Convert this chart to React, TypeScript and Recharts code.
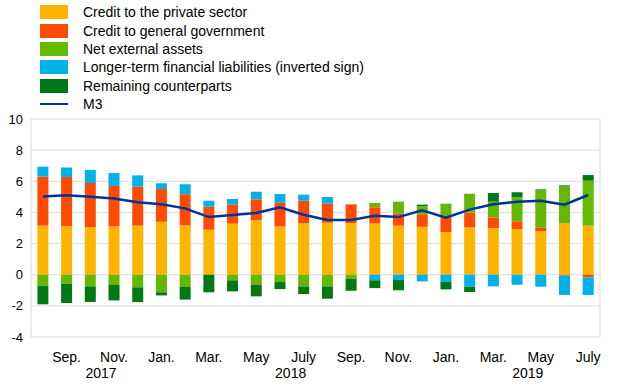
import {
  ComposedChart,
  Bar,
  Line,
  XAxis,
  YAxis,
  CartesianGrid,
} from "recharts";

const months = [
  "2017-08", "2017-09", "2017-10", "2017-11", "2017-12",
  "2018-01", "2018-02", "2018-03", "2018-04", "2018-05", "2018-06",
  "2018-07", "2018-08", "2018-09", "2018-10", "2018-11", "2018-12",
  "2019-01", "2019-02", "2019-03", "2019-04", "2019-05", "2019-06", "2019-07",
];

const monthLabels: Record<string, string> = {
  "01": "Jan.", "03": "Mar.", "05": "May", "07": "July", "09": "Sep.", "11": "Nov.",
};

// year label sits just left of these months
const yearAt: Record<string, string> = {
  "2017-11": "2017",
  "2018-07": "2018",
  "2019-05": "2019",
};

const privateSector = [3.15, 3.13, 3.06, 3.1, 3.15, 3.4, 3.17, 2.89, 3.28, 3.51, 3.1, 3.3, 3.34, 3.32, 3.3, 3.15, 3.08, 2.74, 3.04, 3.0, 2.93, 2.8, 3.3, 3.15];
const government = [3.15, 3.14, 2.83, 2.6, 2.5, 2.1, 2.0, 1.48, 1.24, 1.33, 1.52, 1.45, 1.24, 1.2, 1.03, 0.79, 0.8, 0.9, 0.94, 0.68, 0.51, 0.24, -0.06, -0.17];
const netExternal = [-0.73, -0.58, -0.75, -0.66, -0.81, -1.13, -0.79, 0, -0.36, -0.64, -0.47, -0.75, -0.75, -0.26, 0.28, 0.75, 0.51, 0.92, 1.22, 1.01, 1.54, 2.38, 2.37, 2.89];
const longerTerm = [0.64, 0.62, 0.84, 0.83, 0.73, 0.37, 0.64, 0.38, 0.34, 0.49, 0.56, 0.39, 0.41, 0, -0.36, -0.34, -0.43, -0.47, -0.77, -0.75, -0.64, -0.77, -1.24, -1.13];
const remaining = [-1.17, -1.24, -1.0, -0.99, -0.95, -0.2, -0.81, -1.13, -0.71, -0.75, -0.45, -0.49, -0.79, -0.77, -0.5, -0.66, 0.11, -0.47, -0.34, 0.56, 0.32, 0.06, 0.07, 0.36];
const m3 = [5.03, 5.1, 5.0, 4.9, 4.65, 4.52, 4.26, 3.7, 3.83, 3.96, 4.33, 3.85, 3.51, 3.51, 3.79, 3.7, 4.13, 3.66, 4.18, 4.52, 4.69, 4.75, 4.5, 5.12];

const yTicks = [-4, -2, 0, 2, 4, 6, 8, 10];

const data = months.map((m, i) => ({
  month: m,
  priv: privateSector[i],
  gov: government[i],
  nea: netExternal[i],
  ltfl: longerTerm[i],
  rem: remaining[i],
  m3: m3[i],
}));

const series = [
  { key: "priv", name: "Credit to the private sector", color: "#ffb400" },
  { key: "gov", name: "Credit to general government", color: "#ff4b00" },
  { key: "nea", name: "Net external assets", color: "#65b800" },
  { key: "ltfl", name: "Longer-term financial liabilities (inverted sign)", color: "#00b1ea" },
  { key: "rem", name: "Remaining counterparts", color: "#007816" },
];

const font = "'Liberation Sans', Arial, sans-serif";

function MonthTick(props: any) {
  const { x, y, payload } = props;
  const m: string = payload.value;
  const label = monthLabels[m.slice(5)];
  const year = yearAt[m];
  return (
    <g>
      {label && (
        <text x={x} y={y + 17} textAnchor="middle" fontSize={14} fill="#000" fontFamily={font}>
          {label}
        </text>
      )}
      {year && (
        <text x={x - 13} y={y + 33} textAnchor="middle" fontSize={14} fill="#000" fontFamily={font}>
          {year}
        </text>
      )}
    </g>
  );
}

function LegendBox() {
  return (
    <div style={{ position: "absolute", left: 40, top: 3, fontFamily: font, fontSize: 14, color: "#000" }}>
      {series.map((s) => (
        <div key={s.key} style={{ display: "flex", alignItems: "center", height: 18.4 }}>
          <div style={{ width: 28, height: 14, background: s.color, marginRight: 15 }} />
          <span>{s.name}</span>
        </div>
      ))}
      <div style={{ display: "flex", alignItems: "center", height: 18.4 }}>
        <div style={{ width: 28, height: 2.5, background: "#003299", marginRight: 15 }} />
        <span>M3</span>
      </div>
    </div>
  );
}

export default function App() {
  return (
    <div style={{ position: "absolute", left: 0, top: 0, width: 620, height: 387, background: "#fff" }}>
      <LegendBox />
      <ComposedChart
        width={620}
        height={387}
        data={data}
        stackOffset="sign"
        barCategoryGap="27%"
        margin={{ top: 119, right: 20, left: 0, bottom: 5 }}
      >
        <CartesianGrid
          stroke="#e3e3e3"
          strokeWidth={1.2}
          verticalCoordinatesGenerator={({ offset }: any) => [offset.left, offset.left + offset.width]}
        />
        <XAxis
          dataKey="month"
          interval={0}
          axisLine={false}
          tickLine={false}
          height={45}
          tick={<MonthTick />}
        />
        <YAxis
          domain={[-4, 10]}
          ticks={yTicks}
          axisLine={false}
          tickLine={false}
          width={31}
          tick={{ fill: "#000", fontSize: 13, fontFamily: font }}
        />
        {series.map((s) => (
          <Bar
            key={s.key}
            dataKey={s.key}
            name={s.name}
            stackId="a"
            fill={s.color}
            isAnimationActive={false}
          />
        ))}
        <Line
          dataKey="m3"
          name="M3"
          type="linear"
          stroke="#003299"
          strokeWidth={2.5}
          dot={false}
          isAnimationActive={false}
        />
      </ComposedChart>
    </div>
  );
}
